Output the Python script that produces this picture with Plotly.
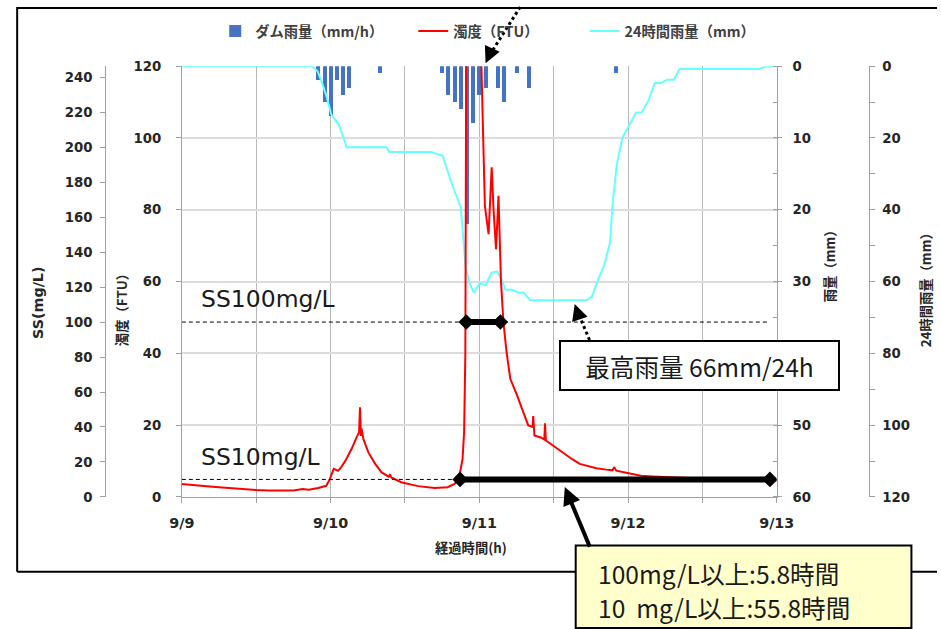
import plotly.graph_objects as go

# The photographed page shows the figure offset by the body margin and slightly reduced
# (measured: shown = 7.8 + 0.977 * figure px).  Reference pixel positions are mapped back
# through that so the final picture lines up with the reference.
A, B = 0.977, 7.8
FW, FH = 955, 636
S = 1 / A


def fx(px):
    return min(max(((px - B) / A) / FW, 0.0), 1.0)


def fy(py):
    return min(max(1 - ((py - B) / A) / FH, 0.0), 1.0)


def fs(size):
    return round(size * S, 1)


# ---------------- data ----------------
x_tick_hours = [0, 12, 24, 36, 48, 60, 72, 84, 96]
x_tick_labels = ["9/9", "", "9/10", "", "9/11", "", "9/12", "", "9/13"]

# hourly dam rainfall (mm/h), hours since 9/9 00:00
rain_hours = [22, 23, 24, 25, 26, 27, 32, 42, 43, 44, 45, 46, 47, 48, 49, 51, 52, 54, 56, 70]
rain_mm = [2, 5, 7, 2, 4, 3, 1, 1, 4, 5, 6, 22, 8, 4, 3, 3, 5, 1, 3, 1]

# 24-hour rainfall (mm)
cum_hours = [0, 21.0, 21.9, 22.6, 23.4, 24.1, 24.7, 25.3, 25.8, 26.6, 33.0, 33.5, 40.2, 42.1,
             43.4, 45.0, 45.8, 46.4, 47.1, 48.1, 49.0, 50.0, 50.9, 51.7, 52.2, 53.3, 54.4, 55.2,
             56.2, 65.3, 66.2, 67.1, 68.2, 69.1, 69.5, 70.2, 71.1, 72.2, 73.3, 74.2, 75.3, 76.3,
             77.3, 78.3, 79.4, 80.3, 93.2, 94.3, 96]
cum_mm = [0, 0, 1.4, 4.5, 8.7, 13.4, 14.8, 16.2, 18.5, 22.6, 22.6, 23.9, 23.9, 25.0,
          32.0, 39.3, 56.0, 60.3, 63.1, 60.4, 61.0, 57.5, 57.2, 59.8, 62.3, 62.3, 63.1, 63.1,
          65.2, 65.2, 64.1, 59.8, 55.2, 49.1, 38.4, 27.3, 19.9, 16.2, 12.9, 12.9, 9.6, 4.7,
          4.7, 3.8, 3.8, 0.8, 0.8, 0, 0]

# turbidity (FTU)
turb_hours = [0, 2, 4, 6, 8, 10, 12, 14, 16, 18, 19.5, 20.5, 22, 23.3, 23.9, 24.5, 25.2, 25.6,
              26.4, 27.4, 28.2, 28.6, 28.75, 28.9, 29.0, 29.3, 30.1, 31.2, 32.2, 33.4, 33.6,
              33.8, 35.4, 38.1, 40.8, 42.9, 44.0, 44.7, 45.3, 45.55, 45.75, 45.9, 48.2, 48.9,
              49.5, 49.8, 50.0, 50.3, 50.7, 51.1, 51.5, 51.9, 52.4, 53.0, 53.5, 54.1, 54.9,
              55.5, 55.9, 56.6, 56.7, 56.9, 58.0, 58.5, 58.6, 58.75, 59.9, 61.0, 62.1, 63.0,
              64.2, 65.5, 66.9, 68.5, 69.5, 69.8, 70.1, 71.5, 73.0, 74.1, 76, 78, 80, 83, 86,
              89, 92, 94, 96]
turb_ftu = [3.6, 3.2, 3.0, 2.7, 2.4, 2.2, 1.9, 1.8, 1.7, 1.8, 2.2, 2.0, 2.5, 3.1, 5.0, 7.8,
            7.3, 8.0, 10.1, 13.4, 16.6, 18.0, 25.0, 17.0, 19.0, 16.1, 12.4, 9.2, 6.9, 5.6, 6.3,
            5.4, 4.1, 3.0, 2.5, 2.7, 3.6, 5.0, 10.6, 18.0, 40.0, 130, 130, 81.1,
            73.2, 85.0, 91.8, 80.0, 69.0, 83.9, 60.0, 48.6, 40.3, 32.9, 31.0, 28.3, 24.5,
            22.0, 19.9, 19.5, 22.5, 17.1, 16.5, 16.0, 20.5, 15.7, 14.3, 12.8, 11.5, 10.5,
            9.2, 8.6, 8.0, 7.6, 7.4, 8.3, 7.3, 6.8, 6.4, 5.9, 5.7, 5.5, 5.4, 5.2, 5.0,
            5.0, 5.3, 5.0, 4.6]

ss_per_ftu = 2.053           # SS(mg/L) = 2.053 x FTU
ss_thresholds = [100, 10]
threshold_line_end = [94.7, 44.9]   # hours
exceed_start = [45.9, 44.9]
exceed_end = [51.4, 94.9]

# ---------------- styles ----------------
AX = "#a0a0a0"
TICKFONT = dict(family="DejaVu Sans", size=fs(13), color="#262626", weight="bold")
CJK = "Noto Sans CJK JP"

fig = go.Figure()

fig.add_trace(go.Bar(
    x=rain_hours, y=rain_mm, width=0.65, marker=dict(color="#4472C4", line=dict(width=0)),
    name="ダム雨量（mm/h）", yaxis="y", legend="legend"))

fig.add_trace(go.Scatter(
    x=cum_hours, y=cum_mm, mode="lines", line=dict(color="#66FFFF", width=2),
    name="24時間雨量（mm）", yaxis="y2", legend="legend3"))

fig.add_trace(go.Scatter(
    x=turb_hours, y=turb_ftu, mode="lines", line=dict(color="#FF0000", width=2),
    name="濁度（FTU）", yaxis="y3", legend="legend2"))

for thr, xe in zip(ss_thresholds, threshold_line_end):
    fig.add_trace(go.Scatter(
        x=[0, xe], y=[thr, thr], mode="lines", yaxis="y4", showlegend=False,
        line=dict(color="#000000", width=1, dash="4px,3px")))

for thr, xs, xe in zip(ss_thresholds, exceed_start, exceed_end):
    fig.add_trace(go.Scatter(
        x=[xs, xe], y=[thr, thr], mode="lines+markers", yaxis="y4", showlegend=False,
        line=dict(color="#000000", width=6),
        marker=dict(symbol="diamond", size=12, color="#000000")))

xdom = [fx(178.3), fx(779)]
ydom = [fy(498), fy(67)]

LEGFONT = dict(family=CJK, size=fs(14), color="#404040", weight="bold")

fig.update_layout(
    width=FW, height=FH, margin=dict(l=0, r=0, t=0, b=0),
    paper_bgcolor="white", plot_bgcolor="white",
    bargap=0,
    xaxis=dict(domain=xdom, range=[0, 96], tickvals=x_tick_hours, ticktext=x_tick_labels,
               showgrid=True, gridcolor="#b8b8b8", gridwidth=1, zeroline=False,
               showline=True, linecolor=AX, ticks="outside", ticklen=5, tickcolor=AX,
               tickfont=dict(family="DejaVu Sans", size=fs(14), color="#262626",
                             weight="bold"),
               ticklabelstandoff=8),
    yaxis=dict(domain=ydom, range=[60, 0], side="right", anchor="x",
               tickvals=[0, 10, 20, 30, 40, 50, 60], showgrid=False, zeroline=False,
               showline=True, linecolor=AX, ticks="outside", ticklen=4, tickcolor=AX,
               minor=dict(dtick=5, ticks="inside", ticklen=4, tickcolor=AX, showgrid=False),
               tickfont=TICKFONT, ticklabelstandoff=8),
    yaxis2=dict(overlaying="y", range=[120, 0], side="right", anchor="free",
                position=fx(871.7), tickvals=[0, 20, 40, 60, 80, 100, 120],
                showgrid=False, zeroline=False, showline=True, linecolor=AX,
                ticks="outside", ticklen=5, tickcolor=AX,
                minor=dict(dtick=10, ticks="outside", ticklen=5, tickcolor=AX, showgrid=False),
                tickfont=TICKFONT, ticklabelstandoff=5),
    yaxis3=dict(overlaying="y", range=[0, 120], side="left", anchor="x",
                tickvals=[0, 20, 40, 60, 80, 100, 120], showgrid=True, gridcolor="#dcdcdc",
                gridwidth=1.5, zeroline=False, showline=True, linecolor=AX,
                ticks="outside", ticklen=5, tickcolor=AX, tickfont=TICKFONT,
                ticklabelstandoff=12),
    yaxis4=dict(overlaying="y", range=[0, 120 * ss_per_ftu], side="left", anchor="free",
                position=fx(101), tickvals=list(range(0, 241, 20)), showgrid=False,
                zeroline=False, showline=True, linecolor=AX, ticks="outside", ticklen=5,
                tickcolor=AX, tickfont=TICKFONT, ticklabelstandoff=5),
    legend=dict(orientation="h", x=fx(212), y=fy(32), xanchor="left", yanchor="middle",
                font=LEGFONT, bgcolor="rgba(0,0,0,0)"),
    legend2=dict(orientation="h", x=fx(412), y=fy(32), xanchor="left", yanchor="middle",
                 font=LEGFONT, bgcolor="rgba(0,0,0,0)"),
    legend3=dict(orientation="h", x=fx(585), y=fy(32), xanchor="left", yanchor="middle",
                 font=LEGFONT, bgcolor="rgba(0,0,0,0)"),
)

shapes = [
    dict(type="line", xref="paper", yref="paper", x0=fx(12), y0=0.9985, x1=1, y1=0.9985,
         line=dict(color="black", width=2)),
    dict(type="line", xref="paper", yref="paper", x0=fx(12), y0=1, x1=fx(12), y1=fy(573),
         line=dict(color="black", width=2)),
    dict(type="line", xref="paper", yref="paper", x0=fx(12), y0=fy(573), x1=1, y1=fy(573),
         line=dict(color="black", width=2)),
    dict(type="rect", xref="paper", yref="paper", x0=fx(576), y0=0, x1=fx(915),
         y1=fy(546.7), fillcolor="#FFFFCC", line=dict(color="black", width=2)),
    dict(type="line", xref="paper", yref="paper", x0=fx(520), y0=1, x1=fx(489), y1=fy(56),
         line=dict(color="black", width=3, dash="dot")),
    dict(type="line", xref="paper", yref="paper", x0=fx(590), y0=fy(341), x1=fx(578), y1=fy(313),
         line=dict(color="black", width=3, dash="dot")),
]
fig.update_layout(shapes=shapes)

ann = []
# arrowheads / arrows
ann.append(dict(xref="paper", yref="paper", x=fx(485), y=fy(64), ax=5 * S, ay=-11 * S, text="",
                showarrow=True, arrowhead=2, arrowsize=1.3, arrowwidth=2.5, arrowcolor="black"))
ann.append(dict(xref="paper", yref="paper", x=fx(575), y=fy(305), ax=3 * S, ay=9 * S, text="",
                showarrow=True, arrowhead=2, arrowsize=1.3, arrowwidth=2.5, arrowcolor="black"))
ann.append(dict(xref="paper", yref="paper", x=fx(565), y=fy(488), ax=25 * S, ay=60 * S, text="",
                showarrow=True, arrowhead=2, arrowsize=0.9, arrowwidth=4, arrowcolor="black"))

# threshold labels
ann.append(dict(xref="paper", yref="paper", x=fx(196), y=fy(300), text="SS100mg/L",
                showarrow=False, xanchor="left", yanchor="middle",
                font=dict(family="DejaVu Sans", size=fs(23), color="#1a1a1a")))
ann.append(dict(xref="paper", yref="paper", x=fx(196), y=fy(458), text="SS10mg/L",
                showarrow=False, xanchor="left", yanchor="middle",
                font=dict(family="DejaVu Sans", size=fs(23), color="#1a1a1a")))

# max rainfall box
ann.append(dict(xref="paper", yref="paper", x=fx(701.5), y=fy(366.7), text="最高雨量 66mm/24h",
                showarrow=False, xanchor="center", yanchor="middle",
                font=dict(family=CJK, size=fs(24), color="#1a1a1a"),
                bgcolor="white", bordercolor="black", borderwidth=2, borderpad=0,
                width=round(271 * S), height=round(46 * S)))

# duration box text
ann.append(dict(xref="paper", yref="paper", x=fx(597), y=fy(574), text="100mg/L以上:5.8時間",
                showarrow=False, xanchor="left", yanchor="middle",
                font=dict(family=CJK, size=fs(24), color="#1a1a1a")))
ann.append(dict(xref="paper", yref="paper", x=fx(597), y=fy(608),
                text="10\u00a0\u00a0mg/L以上:55.8時間",
                showarrow=False, xanchor="left", yanchor="middle",
                font=dict(family=CJK, size=fs(24), color="#1a1a1a")))

# axis titles
ann.append(dict(xref="paper", yref="paper", x=fx(33), y=fy(304), text="SS(mg/L)", textangle=-90,
                showarrow=False, xanchor="center", yanchor="middle",
                font=dict(family="DejaVu Sans", size=fs(14), color="#262626", weight="bold")))
ann.append(dict(xref="paper", yref="paper", x=fx(117), y=fy(308), text="濁度（FTU）", textangle=-90,
                showarrow=False, xanchor="center", yanchor="middle",
                font=dict(family=CJK, size=fs(13), color="#262626", weight="bold")))
ann.append(dict(xref="paper", yref="paper", x=fx(832), y=fy(264), text="雨量（mm）", textangle=-90,
                showarrow=False, xanchor="center", yanchor="middle",
                font=dict(family=CJK, size=fs(13), color="#262626", weight="bold")))
ann.append(dict(xref="paper", yref="paper", x=fx(929), y=fy(288), text="24時間雨量（mm）",
                textangle=-90, showarrow=False, xanchor="center", yanchor="middle",
                font=dict(family=CJK, size=fs(13), color="#262626", weight="bold")))
ann.append(dict(xref="paper", yref="paper", x=fx(470), y=fy(549), text="経過時間(h)",
                showarrow=False, xanchor="center", yanchor="middle",
                font=dict(family=CJK, size=fs(13), color="#262626", weight="bold")))

fig.update_layout(annotations=ann)

fig.write_html("out.html")
